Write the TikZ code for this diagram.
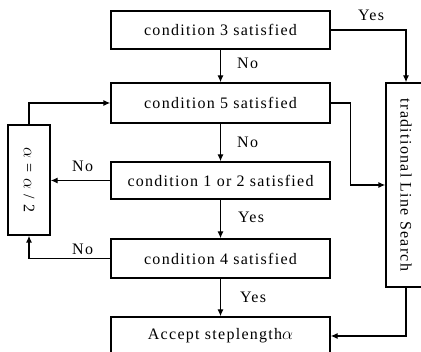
\documentclass[tikz,border=0pt]{standalone}
\usepackage{fontspec}
\setmainfont{Liberation Serif}[LetterSpace=8]
\usetikzlibrary{arrows.meta}
\tikzset{
  block/.style={draw,line width=1.3pt,minimum width=219pt,minimum height=38pt,inner sep=0pt},
  sidebox/.style={draw,line width=1.3pt,inner sep=0pt},
  flow/.style={line width=1.3pt,-{Latex[length=7pt,width=6pt]}},
  answer/.style={anchor=west,inner sep=0pt}
}
\def\cx{220.5}

\begin{document}
\begin{tikzpicture}[x=1pt,y=-1pt,font=\fontsize{16}{19}\selectfont]
  \clip (0,0) rectangle (421,352);

  % Conditions
  \node[block] (c3) at (\cx,30) {condition 3 satisfied};
  \node[block,minimum height=40pt] (c5) at (\cx,103) {condition 5 satisfied};
  \node[block,minimum height=37pt] (c12) at (\cx,180.5) {condition 1 or 2 satisfied};
  \node[block,minimum height=39pt] (c4) at (\cx,258.5) {condition 4 satisfied};
  \node[block] (acc) at (\cx,336) {Accept steplength$\alpha$};

  % Side boxes
  \node[sidebox,minimum width=42pt,minimum height=110pt] (half) at (29,180) {};
  \node[rotate=-90] (halftext) at (half) {$\alpha$ = $\alpha$ / 2};
  \node[sidebox,minimum width=40pt,minimum height=204pt] (trad) at (406,185) {};
  \node[rotate=-90] (tradtext) at (trad) {traditional Line Search};

  % Connectors
  \draw[flow] (c3.south) -- (c5.north);
  \draw[flow] (c5.south) -- (c12.north);
  \draw[flow] (c12.south) -- (c4.north);
  \draw[flow] (c4.south) -- (acc.north);
  \draw[flow] (c3.east) -| (trad.north);
  \draw[flow] (c5.east) -- ++(20,0) |- (trad.west);
  \draw[flow] (trad.south) |- (acc.east);
  \draw[flow] (c12.west) -- (c12.west -| half.east);
  \draw[flow] (c4.west) -| (half.south);
  \draw[flow] (half.north) |- (c5.west);

  % Answers
  \node[answer] (no3) at (237,63) {No};
  \node[answer] (no5) at (237,142) {No};
  \node[answer] (no12) at (72,166) {No};
  \node[answer] (no4) at (72,249) {No};
  \node[answer] (yes12) at (238,217) {Yes};
  \node[answer] (yes4) at (240,297) {Yes};
  \node[answer] (yes3) at (358,15) {Yes};
\end{tikzpicture}
\end{document}
